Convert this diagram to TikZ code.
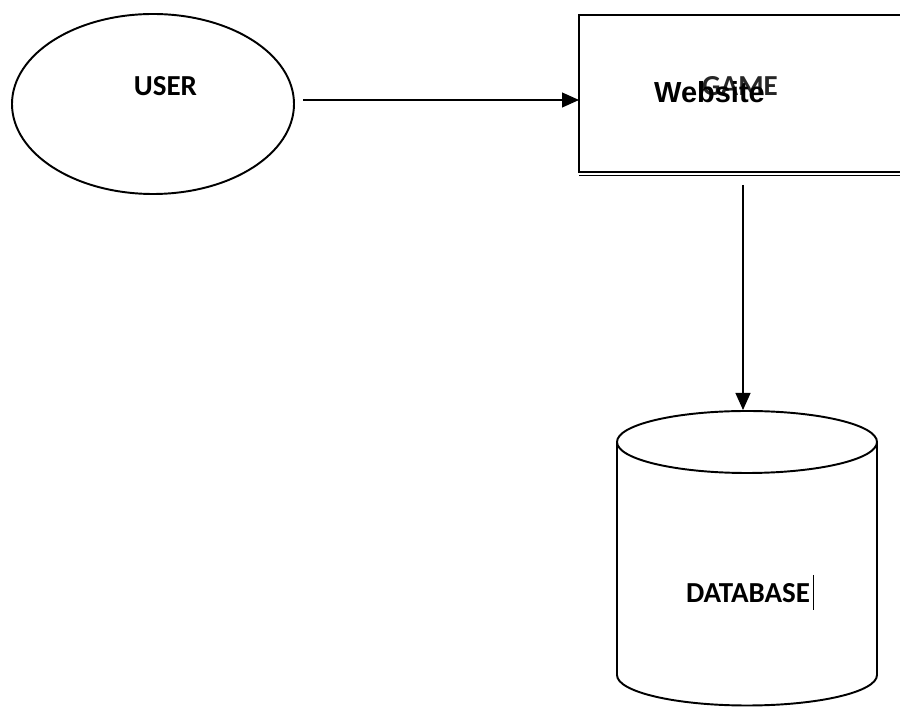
\documentclass[tikz,border=0pt]{standalone}
\usepackage{fontspec}
\setmainfont{Carlito}
\newfontfamily\arialfont{Liberation Sans}
\usetikzlibrary{arrows.meta,shapes.geometric}

\begin{document}
\begin{tikzpicture}[
    flow/.style={line width=0.6pt,-{Triangle[length=0.34cm,width=0.3cm]}},
    lbl/.style={font=\fontsize{16.5}{19}\selectfont\bfseries,inner sep=0pt}
  ]
  \useasboundingbox (0,0) rectangle (18,14.14);
  \clip (0,0) rectangle (18,14.14);
  % User
  \node[draw,ellipse,line width=1.1pt,outer sep=0pt,minimum width=5.64cm,minimum height=3.6cm] (user) at (3.06,12.06) {};
  \node[lbl] (userlbl) at (3.31,12.42) {USER};
  % Game box
  \node[draw,rectangle,line width=1.1pt,outer sep=0pt,anchor=north west,minimum width=7cm,minimum height=3.14cm] (game) at (11.58,13.84) {};
  \draw[line width=0.8pt] ([yshift=-0.07cm]game.south west) -- ++(7,0);
  \node[lbl,text=black!85] (gamelbl) at (14.80,12.42) {GAME};
  \node[lbl,font=\arialfont\fontsize{16.5}{19}\selectfont\bfseries] (weblbl) at (14.19,12.30) {Website};
  % Database
  \coordinate (dbtop) at (14.86,5.94);
  \draw[line width=1.1pt] (12.34,5.30) -- (12.34,0.64)
    arc[start angle=180,end angle=360,x radius=2.6,y radius=0.61] -- (17.54,5.30);
  \draw[line width=1.1pt] (14.94,5.30) ellipse [x radius=2.6,y radius=0.62];
  \node[lbl] (dblbl) at (14.96,2.28) {DATABASE};
  \draw[line width=0.4pt] ([xshift=0.06cm]dblbl.east) ++(0,0.36) -- ++(0,-0.7);
  % Connectors
  \coordinate (arrowy) at ([yshift=0.08cm]user.east);
  \coordinate (gamebot) at ([yshift=-0.26cm]game.south);
  \draw[flow] ([xshift=0.18cm]arrowy) -- (game.west |- arrowy);
  \draw[flow] (gamebot -| dbtop) -- (dbtop);
\end{tikzpicture}
\end{document}
